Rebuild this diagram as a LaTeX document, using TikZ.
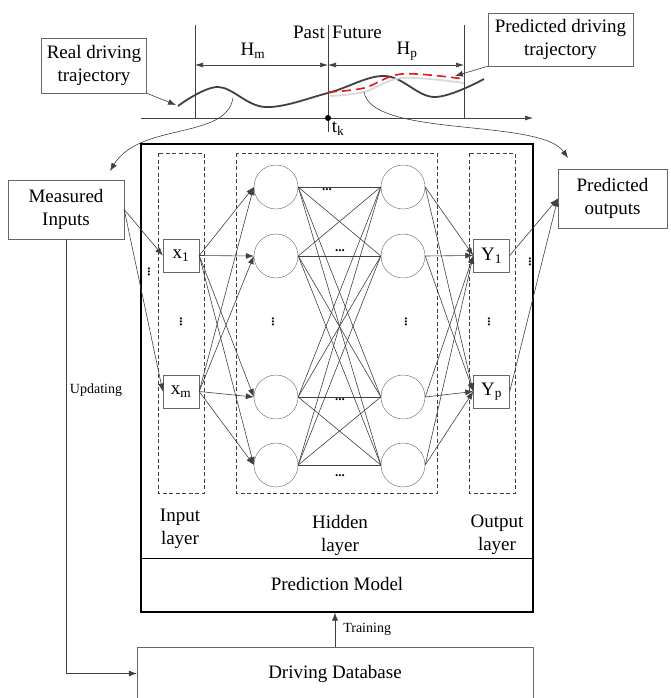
\documentclass[tikz,border=0pt]{standalone}
\usepackage{fontspec}
\setmainfont{Liberation Serif}
\usetikzlibrary{arrows.meta}
\newlength{\du}
\setlength{\du}{1pt}
\definecolor{dialinecolor}{rgb}{0.250000, 0.250000, 0.250000}
\definecolor{diaboxcolor}{rgb}{0.400000, 0.400000, 0.400000}
\definecolor{diaredcolor}{rgb}{0.900000, 0.100000, 0.100000}
\tikzset{
  txtbox/.style={draw=diaboxcolor, fill=white, align=center, inner sep=0pt, font=\fontsize{19}{23}\selectfont},
  unitbox/.style={draw=diaboxcolor, fill=white, minimum width=36\du, minimum height=33\du, inner sep=0pt, font=\fontsize{19}{20}\selectfont},
  neuron/.style={circle, draw=diaboxcolor, minimum size=44\du, inner sep=0pt},
  layerframe/.style={draw=dialinecolor, dash pattern=on 4\du off 2.5\du},
  link/.style={draw=dialinecolor, line width=0.6\du},
  feed/.style={link, -{Latex[length=8pt,width=6pt]}},
  axisarrow/.style={link, -{Latex[length=8pt,width=5pt]}},
  spanarrow/.style={link, {Latex[length=8pt,width=5pt]}-{Latex[length=8pt,width=5pt]}},
  lbl/.style={inner sep=0pt, align=center, font=\fontsize{19}{23}\selectfont},
  smalllbl/.style={inner sep=0pt, font=\fontsize{14}{16}\selectfont},
  dotlbl/.style={inner sep=0pt, font=\bfseries\fontsize{13}{13}\selectfont},
}

\begin{document}
\begin{tikzpicture}
\pgftransformxscale{1.000000}
\pgftransformyscale{-1.000000}
\useasboundingbox (0\du,0\du) rectangle (670\du,698\du);
% time axis and horizons
\draw[axisarrow] (141\du,118\du) -- (533\du,118\du);
\draw[link] (195\du,25\du) -- (195\du,118\du);
\draw[link] (328\du,25\du) -- (328\du,132\du);
\draw[link] (464\du,25\du) -- (464\du,118\du);
\fill[black] (328\du,118\du) circle (3\du);
\draw[spanarrow] (195\du,65\du) -- (328\du,65\du);
\draw[spanarrow] (328\du,65\du) -- (464\du,65\du);
\node[lbl] (hm) at (253\du,51\du) {H\textsubscript{m}};
\node[lbl] (hp) at (407\du,51\du) {H\textsubscript{p}};
\node[lbl, anchor=east] (past) at (325\du,32\du) {Past};
\node[lbl, anchor=west] (future) at (332\du,32\du) {Future};
\node[lbl] (tk) at (338\du,129\du) {t\textsubscript{k}};
% trajectories
\draw[line width=1.8\du, draw=black!75] plot[smooth, tension=0.6] coordinates {(178\du,106\du) (218\du,87\du) (265\du,107\du) (328\du,93\du) (385\du,76\du) (434\du,97\du) (484\du,79\du)};
\draw[line width=1.8\du, draw=black!15] plot[smooth, tension=0.6] coordinates {(330\du,96\du) (364\du,92\du) (402\du,78\du) (464\du,83\du)};
\draw[line width=1.6\du, draw=diaredcolor, dash pattern=on 9\du off 5\du] plot[smooth, tension=0.6] coordinates {(328\du,92\du) (364\du,88\du) (402\du,74\du) (464\du,79\du)};
\coordinate (realend) at (176\du,105\du);
\coordinate (predend) at (455\du,76\du);
\coordinate (realpt) at (233\du,98\du);
\coordinate (predpt) at (364\du,92\du);
\coordinate (meastip) at (110\du,171\du);
\coordinate (predtip) at (568\du,158\du);
\node[txtbox, minimum width=105\du, minimum height=55\du] (realtraj) at (94\du,65.5\du) {Real driving\\trajectory};
\node[txtbox, minimum width=145\du, minimum height=53\du] (predtraj) at (560.5\du,39.5\du) {Predicted driving\\trajectory};
\draw[feed] (realtraj.south east) -- (realend);
\draw[feed] (predtraj.south west) -- (predend);
% measured inputs and predicted outputs
\node[txtbox, minimum width=116\du, minimum height=59\du] (meas) at (66\du,209.5\du) {Measured\\Inputs};
\node[txtbox, minimum width=109\du, minimum height=59\du] (predout) at (612.5\du,198.5\du) {Predicted\\outputs};
\draw[feed] (realpt) .. controls (226\du,140\du) and (140\du,122\du) .. (meastip);
\draw[feed] (predpt) .. controls (372\du,138\du) and (540\du,118\du) .. (predtip);
% prediction model
\node[draw=black, line width=1.2\du, minimum width=392\du, minimum height=468\du, inner sep=0pt] (model) at (337\du,378\du) {};
\draw[draw=black, line width=1\du] (141\du,558\du) -- (533\du,558\du);
\node[lbl] (modelname) at (337\du,584\du) {Prediction Model};
\draw[layerframe] (158\du,153\du) rectangle (204\du,493\du);
\draw[layerframe] (236\du,153\du) rectangle (437\du,493\du);
\draw[layerframe] (469\du,153\du) rectangle (515\du,493\du);
\node[lbl] (inlayer) at (180\du,529\du) {Input\\layer};
\node[lbl] (hidlayer) at (340\du,535\du) {Hidden\\layer};
\node[lbl] (outlayer) at (497\du,535\du) {Output\\layer};
% units
\node[unitbox] (x1) at (181\du,255.5\du) {x\textsubscript{1}};
\node[unitbox] (xm) at (181\du,391.5\du) {x\textsubscript{m}};
\node[unitbox] (y1) at (491.5\du,255.5\du) {Y\textsubscript{1}};
\node[unitbox] (yp) at (491.5\du,391.5\du) {Y\textsubscript{p}};
\node[neuron] (hl1) at (276\du,187\du) {};
\node[neuron] (hl2) at (276\du,256\du) {};
\node[neuron] (hl3) at (276\du,397\du) {};
\node[neuron] (hl4) at (276\du,465\du) {};
\node[neuron] (hr1) at (403\du,187\du) {};
\node[neuron] (hr2) at (403\du,256\du) {};
\node[neuron] (hr3) at (403\du,397\du) {};
\node[neuron] (hr4) at (403\du,465\du) {};
\node[dotlbl, rotate=90] (vd1) at (181\du,322\du) {...};
\node[dotlbl, rotate=90] (vd2) at (273\du,322\du) {...};
\node[dotlbl, rotate=90] (vd3) at (406\du,322\du) {...};
\node[dotlbl, rotate=90] (vd4) at (489\du,322\du) {...};
\node[dotlbl, rotate=90] (vd5) at (149\du,272\du) {...};
\node[dotlbl, rotate=90] (vd6) at (530\du,262\du) {...};
\node[dotlbl] (hd1) at (327\du,190\du) {...};
\node[dotlbl] (hd2) at (340\du,251\du) {...};
\node[dotlbl] (hd3) at (340\du,400\du) {...};
\node[dotlbl] (hd4) at (340\du,476\du) {...};
% inputs to input layer
\draw[feed] (meas.east) -- (x1.west);
\draw[feed] (meas.east) -- (xm.west);
% input layer to hidden layer
\draw[feed] (x1.east) -- (hl1.west);
\draw[feed] (x1.east) -- (hl2.west);
\draw[feed] (x1.east) -- (hl3.west);
\draw[feed] (x1.east) -- (hl4.west);
\draw[feed] (xm.east) -- (hl1.west);
\draw[feed] (xm.east) -- (hl2.west);
\draw[feed] (xm.east) -- (hl3.west);
\draw[feed] (xm.east) -- (hl4.west);
% hidden to hidden
\draw[link] (hl1.east) -- (hr1.west);
\draw[link] (hl1.east) -- (hr2.west);
\draw[link] (hl1.east) -- (hr3.west);
\draw[link] (hl1.east) -- (hr4.west);
\draw[link] (hl2.east) -- (hr1.west);
\draw[link] (hl2.east) -- (hr2.west);
\draw[link] (hl2.east) -- (hr3.west);
\draw[link] (hl2.east) -- (hr4.west);
\draw[link] (hl3.east) -- (hr1.west);
\draw[link] (hl3.east) -- (hr2.west);
\draw[link] (hl3.east) -- (hr3.west);
\draw[link] (hl3.east) -- (hr4.west);
\draw[link] (hl4.east) -- (hr1.west);
\draw[link] (hl4.east) -- (hr2.west);
\draw[link] (hl4.east) -- (hr3.west);
\draw[link] (hl4.east) -- (hr4.west);
% hidden layer to output layer
\draw[feed] (hr1.east) -- (y1.west);
\draw[feed] (hr2.east) -- (y1.west);
\draw[feed] (hr3.east) -- (y1.west);
\draw[feed] (hr4.east) -- (y1.west);
\draw[feed] (hr1.east) -- (yp.west);
\draw[feed] (hr2.east) -- (yp.west);
\draw[feed] (hr3.east) -- (yp.west);
\draw[feed] (hr4.east) -- (yp.west);
\draw[feed] (y1.east) -- (predout.west);
\draw[feed] (yp.east) -- (predout.west);
% database
\node[txtbox, minimum width=396\du, minimum height=53\du] (db) at (335\du,673.5\du) {Driving Database};
\draw[feed] (db.north) -- (db.north |- model.south) node[smalllbl, pos=0.5, right=8\du] (train) {Training};
\draw[feed] (meas.south) |- (db.west);
\node[smalllbl] (upd) at (96\du,390\du) {Updating};
\end{tikzpicture}
\end{document}
